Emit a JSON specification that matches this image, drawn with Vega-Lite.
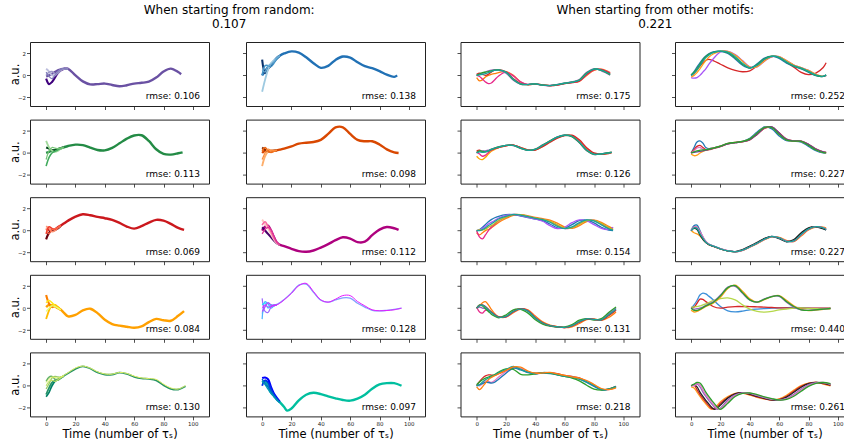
{
"$schema":"https://vega.github.io/schema/vega-lite/v6.json",
"padding":{"left":8,"top":3,"right":0,"bottom":0},
"config":{"font":"DejaVu Sans","view":{"stroke":"#222","strokeWidth":1},
"axis":{"grid":false,"domain":false,"tickSize":3.5,"tickWidth":0.8,"tickColor":"#222","labelFontSize":5.5,"labelColor":"#222","labelPadding":1.5,"labelOverlap":false,"labelBound":false,"titleFontSize":11.5,"titleFontWeight":"normal","titleColor":"#000","titlePadding":2},
"axisY":{"titlePadding":-3,"labelPadding":1},
"title":{"fontSize":12,"fontWeight":"normal","color":"#000","lineHeight":14,"offset":11},
"text":{"fontSize":9,"color":"#000"}},
"datasets":{
"rmse":[{"p":"11","label":"rmse: 0.106"},{"p":"21","label":"rmse: 0.113"},{"p":"31","label":"rmse: 0.069"},{"p":"41","label":"rmse: 0.084"},{"p":"51","label":"rmse: 0.130"},{"p":"12","label":"rmse: 0.138"},{"p":"22","label":"rmse: 0.098"},{"p":"32","label":"rmse: 0.112"},{"p":"42","label":"rmse: 0.128"},{"p":"52","label":"rmse: 0.097"},{"p":"13","label":"rmse: 0.175"},{"p":"23","label":"rmse: 0.126"},{"p":"33","label":"rmse: 0.154"},{"p":"43","label":"rmse: 0.131"},{"p":"53","label":"rmse: 0.218"},{"p":"14","label":"rmse: 0.252"},{"p":"24","label":"rmse: 0.227"},{"p":"34","label":"rmse: 0.227"},{"p":"44","label":"rmse: 0.440"},{"p":"54","label":"rmse: 0.261"}],
"curves":[
{"p":"11","t":0,"a":-0.1,"b":-0.3,"c":0.6,"d":0,"e":0.3},
{"p":"11","t":2,"a":0,"b":-0.8,"c":0.35,"d":0.3,"e":-0.1},
{"p":"11","t":4,"a":0.15,"b":-0.6,"c":0,"d":0.35,"e":-0.3},
{"p":"11","t":6,"a":0.3,"b":-0.2,"c":0,"d":0.15,"e":0},
{"p":"11","t":8,"a":0.45,"b":0.2,"c":0.3,"d":0.2,"e":0.35},
{"p":"11","t":10,"a":0.55,"b":0.45,"c":0.5,"d":0.45,"e":0.55},
{"p":"11","t":12,"a":0.62,"b":0.58,"c":0.6,"d":0.6,"e":0.62},
{"p":"11","t":15,"a":0.6,"b":0.6,"c":0.6,"d":0.6,"e":0.58},
{"p":"11","t":20,"a":0},{"p":"11","t":25,"a":-0.55},{"p":"11","t":30,"a":-0.82},{"p":"11","t":35,"a":-0.8},{"p":"11","t":40,"a":-0.75},{"p":"11","t":45,"a":-0.88},{"p":"11","t":50,"a":-1},{"p":"11","t":55,"a":-0.9},{"p":"11","t":60,"a":-0.75},{"p":"11","t":65,"a":-0.68},{"p":"11","t":70,"a":-0.58},{"p":"11","t":75,"a":-0.2},{"p":"11","t":80,"a":0.35},{"p":"11","t":85,"a":0.62},{"p":"11","t":90,"a":0.3},{"p":"11","t":92,"a":0.1},
{"p":"21","t":0,"a":0,"b":0.5,"c":1.1,"d":-1.2,"e":-0.6},
{"p":"21","t":2,"a":0.1,"b":0.4,"c":0.5,"d":-0.4,"e":0.2},
{"p":"21","t":4,"a":0.2,"b":0.25,"c":0.2,"d":0,"e":0.5},
{"p":"21","t":6,"a":0.25,"b":0.25,"c":0.1,"d":0.15,"e":0.45},
{"p":"21","t":8,"a":0.35,"b":0.35,"c":0.2,"d":0.3,"e":0.4},
{"p":"21","t":10,"a":0.43,"b":0.43,"c":0.4,"d":0.42,"e":0.45},
{"p":"21","t":12,"a":0.52,"b":0.52,"c":0.5,"d":0.52,"e":0.52},
{"p":"21","t":15,"a":0.64},{"p":"21","t":20,"a":0.76},{"p":"21","t":25,"a":0.72},{"p":"21","t":30,"a":0.49},{"p":"21","t":35,"a":0.27},{"p":"21","t":40,"a":0.24},{"p":"21","t":45,"a":0.46},{"p":"21","t":50,"a":0.88},{"p":"21","t":55,"a":1.31},{"p":"21","t":60,"a":1.6},{"p":"21","t":65,"a":1.62},{"p":"21","t":70,"a":1.1},{"p":"21","t":75,"a":0.34},{"p":"21","t":80,"a":-0.09},{"p":"21","t":85,"a":-0.15},{"p":"21","t":90,"a":-0.03},{"p":"21","t":93,"a":0.06},
{"p":"31","t":0,"a":0,"b":-0.8,"c":0.4,"d":-0.3,"e":0.2},
{"p":"31","t":2,"a":0.1,"b":-0.2,"c":0.2,"d":0.35,"e":-0.3},
{"p":"31","t":4,"a":0,"b":0,"c":-0.1,"d":0.2,"e":0.1},
{"p":"31","t":6,"a":0.1,"b":0.05,"c":0,"d":0.1,"e":0.15},
{"p":"31","t":8,"a":0.3,"b":0.2,"c":0.25,"d":0.3,"e":0.3},
{"p":"31","t":10,"a":0.46,"b":0.45,"c":0.45,"d":0.46,"e":0.46},
{"p":"31","t":12,"a":0.64},{"p":"31","t":15,"a":0.91},{"p":"31","t":20,"a":1.28},{"p":"31","t":25,"a":1.49},{"p":"31","t":30,"a":1.4},{"p":"31","t":35,"a":1.25},{"p":"31","t":40,"a":1.13},{"p":"31","t":45,"a":0.98},{"p":"31","t":50,"a":0.7},{"p":"31","t":55,"a":0.37},{"p":"31","t":60,"a":0.18},{"p":"31","t":65,"a":0.4},{"p":"31","t":70,"a":0.73},{"p":"31","t":75,"a":0.98},{"p":"31","t":80,"a":0.91},{"p":"31","t":85,"a":0.61},{"p":"31","t":90,"a":0.24},{"p":"31","t":94,"a":0.06},
{"p":"41","t":0,"a":0.1,"b":1.2,"c":-1,"d":0.5,"e":-0.3},
{"p":"41","t":2,"a":0.3,"b":0.4,"c":-0.2,"d":0.7,"e":0},
{"p":"41","t":4,"a":0.25,"b":0.1,"c":0.3,"d":0.5,"e":0.2},
{"p":"41","t":6,"a":0.15,"b":0.2,"c":0.3,"d":0.2,"e":0.15},
{"p":"41","t":8,"a":0,"b":0.05,"c":0.1,"d":0,"e":0},
{"p":"41","t":10,"a":-0.15,"b":-0.15,"c":-0.15,"d":-0.15,"e":-0.15},
{"p":"41","t":12,"a":-0.4},{"p":"41","t":15,"a":-0.75},{"p":"41","t":20,"a":-0.62},{"p":"41","t":25,"a":-0.2},{"p":"41","t":30,"a":-0.05},{"p":"41","t":35,"a":-0.45},{"p":"41","t":40,"a":-1.06},{"p":"41","t":45,"a":-1.45},{"p":"41","t":50,"a":-1.6},{"p":"41","t":55,"a":-1.7},{"p":"41","t":60,"a":-1.79},{"p":"41","t":65,"a":-1.67},{"p":"41","t":70,"a":-1.27},{"p":"41","t":75,"a":-0.98},{"p":"41","t":80,"a":-1.1},{"p":"41","t":85,"a":-1.15},{"p":"41","t":90,"a":-0.7},{"p":"41","t":94,"a":-0.27},
{"p":"51","t":0,"a":-0.8,"b":-1,"c":0.4,"d":-0.3,"e":0,"f":0.3},
{"p":"51","t":2,"a":-0.2,"b":-0.6,"c":0.8,"d":0.2,"e":0.4,"f":0.6},
{"p":"51","t":4,"a":0.3,"b":0,"c":0.85,"d":0.7,"e":0.5,"f":0.8},
{"p":"51","t":6,"a":0.5,"b":0.4,"c":0.6,"d":0.85,"e":0.4,"f":0.75},
{"p":"51","t":8,"a":0.6,"b":0.55,"c":0.5,"d":0.8,"e":0.55,"f":0.7},
{"p":"51","t":10,"a":0.75,"b":0.7,"c":0.7,"d":0.8,"e":0.75,"f":0.8},
{"p":"51","t":12,"a":0.9,"b":0.88,"c":0.9,"d":0.9,"e":0.9,"f":0.95},
{"p":"51","t":15,"a":1.15,"f":1.2},{"p":"51","t":20,"a":1.55,"f":1.62},{"p":"51","t":25,"a":1.78,"f":1.8},{"p":"51","t":30,"a":1.58,"f":1.62},{"p":"51","t":35,"a":1.22,"f":1.28},{"p":"51","t":40,"a":1.03,"f":1.08},{"p":"51","t":45,"a":1.03,"f":1.06},{"p":"51","t":50,"a":1.2,"f":1.22},{"p":"51","t":55,"a":1.08,"f":1.13},{"p":"51","t":60,"a":0.82,"f":0.88},{"p":"51","t":65,"a":0.67,"f":0.72},{"p":"51","t":70,"a":0.63,"f":0.66},{"p":"51","t":75,"a":0.5,"f":0.58},{"p":"51","t":80,"a":0.05,"f":0.15},{"p":"51","t":85,"a":-0.28,"f":-0.2},{"p":"51","t":90,"a":-0.34,"f":-0.3},{"p":"51","t":95,"a":-0.05,"f":0.02},
{"p":"12","t":0,"a":0,"b":1.45,"c":-1.5,"d":0,"e":0.5},
{"p":"12","t":2,"a":0.4,"b":0.2,"c":-0.4,"d":0.9,"e":0.3},
{"p":"12","t":4,"a":0.75,"b":0.6,"c":0.5,"d":0.9,"e":0.85},
{"p":"12","t":6,"a":1,"b":0.9,"c":1.1,"d":0.8,"e":1},
{"p":"12","t":8,"a":1.3,"b":1.25,"c":1.35,"d":1.1,"e":1.25},
{"p":"12","t":10,"a":1.6,"b":1.55,"c":1.55,"d":1.5,"e":1.6},
{"p":"12","t":12,"a":1.8,"b":1.78,"c":1.8,"d":1.78,"e":1.8},
{"p":"12","t":15,"a":2},{"p":"12","t":20,"a":2.19},{"p":"12","t":25,"a":2.07},{"p":"12","t":30,"a":1.65},{"p":"12","t":35,"a":1.11},{"p":"12","t":40,"a":0.69},{"p":"12","t":45,"a":0.87},{"p":"12","t":50,"a":1.41},{"p":"12","t":55,"a":1.72},{"p":"12","t":60,"a":1.62},{"p":"12","t":65,"a":1.2},{"p":"12","t":70,"a":0.84},{"p":"12","t":75,"a":0.66},{"p":"12","t":80,"a":0.39},{"p":"12","t":85,"a":0.06},{"p":"12","t":90,"a":-0.14},{"p":"12","t":92,"a":0},
{"p":"22","t":0,"a":0,"b":0.5,"c":-1.2,"d":0.2,"e":-0.6},
{"p":"22","t":2,"a":0.2,"b":0.3,"c":-0.3,"d":0.5,"e":0},
{"p":"22","t":4,"a":0.15,"b":0.1,"c":0.1,"d":0.2,"e":0.35},
{"p":"22","t":6,"a":0.15,"b":0.2,"c":0.2,"d":0.05,"e":0.25},
{"p":"22","t":8,"a":0.2,"b":0.2,"c":0.2,"d":0.15,"e":0.2},
{"p":"22","t":10,"a":0.24,"b":0.24,"c":0.24,"d":0.24,"e":0.24},
{"p":"22","t":12,"a":0.3},{"p":"22","t":15,"a":0.39},{"p":"22","t":20,"a":0.6},{"p":"22","t":25,"a":0.85},{"p":"22","t":30,"a":0.94},{"p":"22","t":35,"a":1},{"p":"22","t":40,"a":1.2},{"p":"22","t":45,"a":1.74},{"p":"22","t":50,"a":2.33},{"p":"22","t":55,"a":2.35},{"p":"22","t":60,"a":1.74},{"p":"22","t":65,"a":1.2},{"p":"22","t":70,"a":1.07},{"p":"22","t":75,"a":1.07},{"p":"22","t":80,"a":0.78},{"p":"22","t":85,"a":0.33},{"p":"22","t":90,"a":0.06},{"p":"22","t":93,"a":0},
{"p":"32","t":0,"a":0,"b":0.3,"c":1,"d":0.5,"e":-0.3},
{"p":"32","t":2,"a":0.35,"b":0,"c":0.6,"d":0.8,"e":0.1},
{"p":"32","t":4,"a":0.45,"b":-0.3,"c":0.2,"d":0.4,"e":0.3},
{"p":"32","t":6,"a":0,"b":-0.6,"c":-0.3,"d":-0.1,"e":0.1},
{"p":"32","t":8,"a":-0.6,"b":-0.9,"c":-0.8,"d":-0.7,"e":-0.5},
{"p":"32","t":10,"a":-1.1,"b":-1.15,"c":-1.15,"d":-1.1,"e":-1.05},
{"p":"32","t":12,"a":-1.3,"b":-1.3,"c":-1.3,"d":-1.3,"e":-1.3},
{"p":"32","t":15,"a":-1.42},{"p":"32","t":20,"a":-1.67},{"p":"32","t":25,"a":-1.88},{"p":"32","t":30,"a":-1.94},{"p":"32","t":35,"a":-1.82},{"p":"32","t":40,"a":-1.55},{"p":"32","t":45,"a":-1.24},{"p":"32","t":50,"a":-0.88},{"p":"32","t":55,"a":-0.61},{"p":"32","t":60,"a":-0.73},{"p":"32","t":65,"a":-1.05},{"p":"32","t":70,"a":-1.02},{"p":"32","t":75,"a":-0.42},{"p":"32","t":80,"a":0.09},{"p":"32","t":85,"a":0.33},{"p":"32","t":90,"a":0.21},{"p":"32","t":93,"a":0.06},
{"p":"42","t":0,"a":-0.5,"b":-1,"c":0.9,"d":0.3,"e":-0.3,"f":0},
{"p":"42","t":2,"a":0.2,"b":0.6,"c":-0.3,"d":0.5,"e":0.1,"f":0.3},
{"p":"42","t":4,"a":0.5,"b":0.4,"c":-0.4,"d":0,"e":0.5,"f":0.1},
{"p":"42","t":6,"a":0.3,"b":0,"c":0.1,"d":0.3,"e":0.3,"f":0.15},
{"p":"42","t":8,"a":0.3,"b":0.2,"c":0.3,"d":0.2,"e":0.2,"f":0.25},
{"p":"42","t":10,"a":0.35,"b":0.3,"c":0.3,"d":0.3,"e":0.3,"f":0.3},
{"p":"42","t":12,"a":0.5,"f":0.45},{"p":"42","t":15,"a":0.8,"f":0.76},{"p":"42","t":20,"a":1.4,"f":1.36},{"p":"42","t":25,"a":2.1,"f":2.06},{"p":"42","t":30,"a":2.2,"f":2.27},{"p":"42","t":35,"a":1.45,"f":1.52},{"p":"42","t":40,"a":0.72,"f":0.76},{"p":"42","t":45,"a":0.55,"f":0.55},{"p":"42","t":50,"a":0.75,"f":0.82},{"p":"42","t":55,"a":0.95,"f":1.15},{"p":"42","t":60,"a":0.92,"f":1.15},{"p":"42","t":65,"a":0.45,"f":0.61},{"p":"42","t":70,"a":0.1,"f":0.21},{"p":"42","t":75,"a":-0.2,"f":-0.15},{"p":"42","t":80,"a":-0.25,"f":-0.24},{"p":"42","t":85,"a":-0.2,"f":-0.21},{"p":"42","t":90,"a":-0.12,"f":-0.15},{"p":"42","t":95,"a":0,"f":0},
{"p":"52","t":0,"a":0.3,"b":0.7,"c":0,"d":0.6,"e":0.4},
{"p":"52","t":2,"a":0.4,"b":0.75,"c":0.5,"d":0.2,"e":0.1},
{"p":"52","t":4,"a":0.1,"b":0.6,"c":0.3,"d":-0.1,"e":-0.3},
{"p":"52","t":6,"a":-0.6,"b":-0.1,"c":-0.3,"d":-0.5,"e":-0.7},
{"p":"52","t":8,"a":-0.9,"b":-0.7,"c":-0.8,"d":-0.9,"e":-1},
{"p":"52","t":10,"a":-1.24,"b":-1.1,"c":-1.2,"d":-1.25,"e":-1.3},
{"p":"52","t":12,"a":-1.5,"b":-1.45,"c":-1.5,"d":-1.5,"e":-1.52},
{"p":"52","t":15,"a":-1.94},{"p":"52","t":17,"a":-2.27},{"p":"52","t":20,"a":-2.08},{"p":"52","t":25,"a":-1.33},{"p":"52","t":30,"a":-0.82},{"p":"52","t":35,"a":-0.64},{"p":"52","t":40,"a":-0.76},{"p":"52","t":45,"a":-0.97},{"p":"52","t":50,"a":-1.15},{"p":"52","t":55,"a":-1.3},{"p":"52","t":60,"a":-1.36},{"p":"52","t":65,"a":-1.18},{"p":"52","t":70,"a":-0.82},{"p":"52","t":75,"a":-0.27},{"p":"52","t":80,"a":0.12},{"p":"52","t":85,"a":0.24},{"p":"52","t":90,"a":0.24},{"p":"52","t":95,"a":0},
{"p":"13","t":0,"a":-0.2,"b":0,"c":0.1,"d":0.05,"e":0,"f":0},
{"p":"13","t":2,"a":-0.5,"b":-0.1,"c":0.2,"d":0.1,"e":0.15,"f":0.05},
{"p":"13","t":4,"a":-0.4,"b":-0.35,"c":0.1,"d":0.2,"e":0.25,"f":0.1},
{"p":"13","t":6,"a":-0.15,"b":-0.6,"c":0,"d":0.3,"e":0.3,"f":0.15},
{"p":"13","t":8,"a":0,"b":-0.75,"c":0.1,"d":0.4,"e":0.35,"f":0.25},
{"p":"13","t":10,"a":0.1,"b":-0.7,"c":0.3,"d":0.48,"e":0.42,"f":0.35},
{"p":"13","t":12,"a":0.15,"b":-0.45,"c":0.45,"d":0.52,"e":0.48,"f":0.45},
{"p":"13","t":15,"a":0.25,"b":-0.05,"c":0.52,"d":0.48,"e":0.5,"f":0.5},
{"p":"13","t":20,"a":0.35,"b":0.3,"c":0.32,"d":0.2,"e":0.28,"f":0.3},
{"p":"13","t":25,"a":0,"b":-0.05,"c":-0.3,"d":-0.45,"e":-0.38,"f":-0.35},
{"p":"13","t":30,"a":-0.6,"b":-0.6,"c":-0.75,"d":-0.82,"e":-0.8,"f":-0.78},
{"p":"13","t":35,"a":-0.85,"b":-0.85,"c":-0.84,"d":-0.82,"e":-0.84,"f":-0.84},
{"p":"13","t":40,"a":-0.8,"b":-0.8,"c":-0.78,"d":-0.76,"e":-0.78,"f":-0.78},
{"p":"13","t":45,"a":-0.85,"b":-0.9,"c":-0.88,"d":-0.9,"e":-0.89,"f":-0.9},
{"p":"13","t":50,"a":-0.93,"b":-0.95,"c":-0.93,"d":-0.92,"e":-0.93,"f":-0.93},
{"p":"13","t":55,"a":-0.88,"b":-0.88,"c":-0.86,"d":-0.82,"e":-0.84,"f":-0.84},
{"p":"13","t":60,"a":-0.75,"b":-0.75,"c":-0.74,"d":-0.7,"e":-0.72,"f":-0.72},
{"p":"13","t":65,"a":-0.66,"b":-0.66,"c":-0.65,"d":-0.6,"e":-0.62,"f":-0.63},
{"p":"13","t":70,"a":-0.55,"b":-0.52,"c":-0.5,"d":-0.38,"e":-0.42,"f":-0.45},
{"p":"13","t":75,"a":0,"b":0.05,"c":0.1,"d":0.28,"e":0.22,"f":0.18},
{"p":"13","t":80,"a":0.45,"b":0.5,"c":0.55,"d":0.6,"e":0.58,"f":0.57},
{"p":"13","t":85,"a":0.57,"b":0.55,"c":0.52,"d":0.42,"e":0.45,"f":0.48},
{"p":"13","t":91,"a":0.25,"b":0.22,"c":0.15,"d":0.02,"e":0.07,"f":0.1},
{"p":"23","t":0,"a":-0.3,"b":0.1,"c":0.2,"d":0,"e":0.05,"f":0},
{"p":"23","t":2,"a":-0.55,"b":-0.1,"c":0.25,"d":0.15,"e":0.2,"f":0.1},
{"p":"23","t":4,"a":-0.6,"b":-0.3,"c":0.1,"d":0.2,"e":0.15,"f":0.05},
{"p":"23","t":6,"a":-0.4,"b":-0.2,"c":0.15,"d":0.2,"e":0.1,"f":0.1},
{"p":"23","t":8,"a":-0.1,"b":0.05,"c":0.2,"d":0.25,"e":0.2,"f":0.2},
{"p":"23","t":10,"a":0.15,"b":0.25,"c":0.3,"d":0.35,"e":0.33,"f":0.33},
{"p":"23","t":12,"a":0.3,"b":0.38,"c":0.4,"d":0.45,"e":0.43,"f":0.42},
{"p":"23","t":15,"a":0.48,"b":0.5,"c":0.5,"d":0.56,"e":0.55,"f":0.54},
{"p":"23","t":20,"a":0.66,"b":0.68,"c":0.66,"d":0.7,"e":0.7,"f":0.69},
{"p":"23","t":25,"a":0.72,"b":0.72,"c":0.72,"d":0.68,"e":0.69,"f":0.7},
{"p":"23","t":30,"a":0.5,"b":0.48,"c":0.5,"d":0.42,"e":0.43,"f":0.45},
{"p":"23","t":35,"a":0.27,"b":0.25,"c":0.28,"d":0.23,"e":0.23,"f":0.24},
{"p":"23","t":40,"a":0.28,"b":0.3,"c":0.27,"d":0.36,"e":0.35,"f":0.33},
{"p":"23","t":45,"a":0.6,"b":0.66,"c":0.58,"d":0.74,"e":0.72,"f":0.69},
{"p":"23","t":50,"a":1,"b":1.05,"c":0.98,"d":1.12,"e":1.1,"f":1.08},
{"p":"23","t":55,"a":1.38,"b":1.42,"c":1.35,"d":1.48,"e":1.46,"f":1.44},
{"p":"23","t":60,"a":1.6,"b":1.62,"c":1.58,"d":1.63,"e":1.62,"f":1.62},
{"p":"23","t":65,"a":1.58,"b":1.55,"c":1.62,"d":1.48,"e":1.5,"f":1.53},
{"p":"23","t":70,"a":1.1,"b":1.03,"c":1.2,"d":0.92,"e":0.95,"f":0.99},
{"p":"23","t":75,"a":0.4,"b":0.3,"c":0.48,"d":0.2,"e":0.22,"f":0.27},
{"p":"23","t":80,"a":-0.05,"b":-0.1,"c":0,"d":-0.14,"e":-0.13,"f":-0.12},
{"p":"23","t":85,"a":-0.12,"b":-0.1,"c":-0.12,"d":-0.08,"e":-0.08,"f":-0.09},
{"p":"23","t":90,"a":-0.02,"b":0,"c":-0.05,"d":0.02,"e":0.02,"f":0},
{"p":"23","t":92,"a":0.04,"b":0.05,"c":0.02,"d":0.08,"e":0.07,"f":0.06},
{"p":"33","t":0,"a":-0.2,"b":0,"c":0,"d":0,"e":0,"f":0},
{"p":"33","t":2,"a":-0.4,"b":-0.6,"c":0.1,"d":0.05,"e":0.05,"f":0},
{"p":"33","t":4,"a":-0.2,"b":-0.75,"c":0.3,"d":0.2,"e":0.05,"f":0.1},
{"p":"33","t":6,"a":0,"b":-0.4,"c":0.55,"d":0.4,"e":0.15,"f":0.25},
{"p":"33","t":8,"a":0.1,"b":0,"c":0.8,"d":0.6,"e":0.3,"f":0.45},
{"p":"33","t":10,"a":0.25,"b":0.3,"c":1,"d":0.75,"e":0.45,"f":0.6},
{"p":"33","t":12,"a":0.45,"b":0.55,"c":1.15,"d":0.9,"e":0.62,"f":0.78},
{"p":"33","t":15,"a":0.75,"b":0.9,"c":1.3,"d":1.15,"e":0.92,"f":1.06},
{"p":"33","t":20,"a":1.1,"b":1.22,"c":1.45,"d":1.38,"e":1.22,"f":1.3},
{"p":"33","t":25,"a":1.38,"b":1.45,"c":1.45,"d":1.48,"e":1.45,"f":1.48},
{"p":"33","t":30,"a":1.46,"b":1.44,"c":1.33,"d":1.36,"e":1.45,"f":1.42},
{"p":"33","t":35,"a":1.35,"b":1.3,"c":1.18,"d":1.2,"e":1.3,"f":1.27},
{"p":"33","t":40,"a":1.2,"b":1.14,"c":1.05,"d":1.05,"e":1.15,"f":1.12},
{"p":"33","t":45,"a":1.08,"b":1.02,"c":0.9,"d":0.85,"e":1.03,"f":1},
{"p":"33","t":50,"a":0.95,"b":0.82,"c":0.6,"d":0.45,"e":0.85,"f":0.76},
{"p":"33","t":55,"a":0.68,"b":0.48,"c":0.25,"d":0.18,"e":0.52,"f":0.39},
{"p":"33","t":60,"a":0.32,"b":0.2,"c":0.22,"d":0.3,"e":0.22,"f":0.18},
{"p":"33","t":65,"a":0.2,"b":0.25,"c":0.55,"d":0.72,"e":0.25,"f":0.33},
{"p":"33","t":70,"a":0.45,"b":0.62,"c":0.9,"d":0.97,"e":0.58,"f":0.73},
{"p":"33","t":75,"a":0.82,"b":0.93,"c":0.95,"d":0.88,"e":0.92,"f":0.97},
{"p":"33","t":80,"a":0.95,"b":0.92,"c":0.7,"d":0.55,"e":0.93,"f":0.88},
{"p":"33","t":85,"a":0.75,"b":0.6,"c":0.3,"d":0.2,"e":0.65,"f":0.52},
{"p":"33","t":90,"a":0.38,"b":0.22,"c":0.05,"d":0.1,"e":0.28,"f":0.15},
{"p":"33","t":93,"a":0.2,"b":0.08,"c":0,"d":0.3,"e":0.1,"f":0.03},
{"p":"43","t":0,"a":0,"b":0.1,"c":0,"d":0,"e":0,"f":0},
{"p":"43","t":2,"a":0.2,"b":-0.35,"c":0.1,"d":0.3,"e":0.25,"f":0.24},
{"p":"43","t":4,"a":0.5,"b":-0.45,"c":0,"d":0.2,"e":0.3,"f":0.28},
{"p":"43","t":6,"a":0.6,"b":-0.2,"c":-0.05,"d":-0.05,"e":0.15,"f":0.1},
{"p":"43","t":8,"a":0.3,"b":-0.2,"c":-0.2,"d":-0.3,"e":-0.1,"f":-0.15},
{"p":"43","t":10,"a":-0.1,"b":-0.35,"c":-0.4,"d":-0.55,"e":-0.35,"f":-0.39},
{"p":"43","t":12,"a":-0.45,"b":-0.55,"c":-0.6,"d":-0.72,"e":-0.57,"f":-0.6},
{"p":"43","t":15,"a":-0.78,"b":-0.8,"c":-0.82,"d":-0.88,"e":-0.8,"f":-0.82},
{"p":"43","t":20,"a":-0.82,"b":-0.8,"c":-0.75,"d":-0.62,"e":-0.78,"f":-0.76},
{"p":"43","t":25,"a":-0.42,"b":-0.35,"c":-0.28,"d":-0.15,"e":-0.32,"f":-0.3},
{"p":"43","t":30,"a":-0.08,"b":-0.05,"c":-0.06,"d":-0.1,"e":-0.05,"f":-0.06},
{"p":"43","t":35,"a":-0.15,"b":-0.22,"c":-0.3,"d":-0.45,"e":-0.24,"f":-0.27},
{"p":"43","t":40,"a":-0.72,"b":-0.85,"c":-0.92,"d":-1.05,"e":-0.88,"f":-0.9},
{"p":"43","t":45,"a":-1.25,"b":-1.33,"c":-1.38,"d":-1.45,"e":-1.35,"f":-1.36},
{"p":"43","t":50,"a":-1.55,"b":-1.6,"c":-1.62,"d":-1.65,"e":-1.6,"f":-1.6},
{"p":"43","t":55,"a":-1.68,"b":-1.7,"c":-1.7,"d":-1.72,"e":-1.71,"f":-1.7},
{"p":"43","t":60,"a":-1.78,"b":-1.77,"c":-1.75,"d":-1.72,"e":-1.77,"f":-1.76},
{"p":"43","t":65,"a":-1.7,"b":-1.63,"c":-1.58,"d":-1.5,"e":-1.62,"f":-1.6},
{"p":"43","t":70,"a":-1.4,"b":-1.28,"c":-1.2,"d":-1.1,"e":-1.28,"f":-1.24},
{"p":"43","t":75,"a":-1.05,"b":-0.98,"c":-0.96,"d":-0.96,"e":-1,"f":-0.97},
{"p":"43","t":80,"a":-0.98,"b":-1.02,"c":-1.05,"d":-1.08,"e":-1.02,"f":-1.03},
{"p":"43","t":85,"a":-1.12,"b":-1.08,"c":-1.02,"d":-0.95,"e":-1.1,"f":-1.06},
{"p":"43","t":90,"a":-0.85,"b":-0.65,"c":-0.5,"d":-0.4,"e":-0.7,"f":-0.6},
{"p":"43","t":95,"a":-0.35,"b":-0.15,"c":0,"d":0.1,"e":-0.2,"f":-0.09},
{"p":"53","t":0,"a":0,"b":0.1,"c":0,"d":0.1,"e":0,"f":-0.1},
{"p":"53","t":2,"a":0.4,"b":0,"c":0.1,"d":0.35,"e":0.1,"f":-0.35},
{"p":"53","t":4,"a":0.7,"b":0.2,"c":0.2,"d":0.55,"e":0.35,"f":-0.1},
{"p":"53","t":6,"a":0.9,"b":0.45,"c":0.3,"d":0.7,"e":0.55,"f":0.25},
{"p":"53","t":8,"a":1,"b":0.4,"c":0.3,"d":0.8,"e":0.7,"f":0.55},
{"p":"53","t":10,"a":0.98,"b":0.3,"c":0.25,"d":0.9,"e":0.82,"f":0.75},
{"p":"53","t":12,"a":0.95,"b":0.45,"c":0.3,"d":1,"e":0.95,"f":0.9},
{"p":"53","t":15,"a":1.1,"b":0.8,"c":0.6,"d":1.25,"e":1.18,"f":1.1},
{"p":"53","t":20,"a":1.4,"b":1.3,"c":1.15,"d":1.55,"e":1.48,"f":1.4},
{"p":"53","t":25,"a":1.7,"b":1.65,"c":1.6,"d":1.5,"e":1.76,"f":1.72},
{"p":"53","t":30,"a":1.55,"b":1.6,"c":1.45,"d":1.05,"e":1.5,"f":1.7},
{"p":"53","t":35,"a":1.25,"b":1.3,"c":1.2,"d":1,"e":1.24,"f":1.35},
{"p":"53","t":40,"a":1.15,"b":1.1,"c":1.1,"d":1.08,"e":1.12,"f":1.15},
{"p":"53","t":45,"a":1.2,"b":1.15,"c":1.15,"d":1.2,"e":1.21,"f":1.18},
{"p":"53","t":50,"a":1.2,"b":1.2,"c":1.12,"d":1.15,"e":1.18,"f":1.22},
{"p":"53","t":55,"a":1.1,"b":1.05,"c":1,"d":1,"e":1.03,"f":1.08},
{"p":"53","t":60,"a":0.95,"b":0.9,"c":0.85,"d":0.85,"e":0.88,"f":0.95},
{"p":"53","t":65,"a":0.85,"b":0.8,"c":0.76,"d":0.7,"e":0.79,"f":0.82},
{"p":"53","t":70,"a":0.72,"b":0.66,"c":0.6,"d":0.45,"e":0.64,"f":0.7},
{"p":"53","t":75,"a":0.4,"b":0.4,"c":0.3,"d":0.05,"e":0.36,"f":0.48},
{"p":"53","t":80,"a":0,"b":0.05,"c":-0.05,"d":-0.3,"e":0.03,"f":0.12},
{"p":"53","t":85,"a":-0.35,"b":-0.3,"c":-0.38,"d":-0.4,"e":-0.33,"f":-0.25},
{"p":"53","t":90,"a":-0.3,"b":-0.36,"c":-0.3,"d":-0.3,"e":-0.33,"f":-0.35},
{"p":"53","t":95,"a":-0.05,"b":-0.1,"c":-0.05,"d":-0.1,"e":-0.09,"f":-0.2},
{"p":"14","t":0,"a":0,"b":-0.2,"c":-0.15,"d":0,"e":0.05,"f":0},
{"p":"14","t":2,"a":0.2,"b":-0.25,"c":0,"d":0.35,"e":0.3,"f":0.2},
{"p":"14","t":4,"a":0.5,"b":-0.2,"c":0.25,"d":0.75,"e":0.6,"f":0.5},
{"p":"14","t":6,"a":0.85,"b":0,"c":0.6,"d":1.15,"e":1,"f":0.9},
{"p":"14","t":8,"a":1.15,"b":0.3,"c":1,"d":1.5,"e":1.4,"f":1.3},
{"p":"14","t":10,"a":1.38,"b":0.6,"c":1.35,"d":1.78,"e":1.7,"f":1.62},
{"p":"14","t":12,"a":1.47,"b":1,"c":1.65,"d":1.98,"e":1.92,"f":1.85},
{"p":"14","t":15,"a":1.35,"b":1.5,"c":1.95,"d":2.15,"e":2.1,"f":2.07},
{"p":"14","t":20,"a":1.02,"b":2.15,"c":2.2,"d":2.2,"e":2.22,"f":2.22},
{"p":"14","t":25,"a":0.69,"b":2.2,"c":2.2,"d":2,"e":2.08,"f":2.13},
{"p":"14","t":30,"a":0.45,"b":1.9,"c":1.85,"d":1.5,"e":1.62,"f":1.71},
{"p":"14","t":35,"a":0.33,"b":1.35,"c":1.3,"d":0.92,"e":1.02,"f":1.11},
{"p":"14","t":40,"a":0.42,"b":0.78,"c":0.75,"d":0.66,"e":0.67,"f":0.69},
{"p":"14","t":45,"a":0.88,"b":0.78,"c":0.8,"d":1.05,"e":0.98,"f":0.93},
{"p":"14","t":50,"a":1.42,"b":1.3,"c":1.32,"d":1.58,"e":1.52,"f":1.47},
{"p":"14","t":55,"a":1.72,"b":1.7,"c":1.72,"d":1.76,"e":1.75,"f":1.74},
{"p":"14","t":60,"a":1.62,"b":1.72,"c":1.72,"d":1.55,"e":1.62,"f":1.65},
{"p":"14","t":65,"a":1.18,"b":1.35,"c":1.35,"d":1.12,"e":1.2,"f":1.23},
{"p":"14","t":70,"a":0.75,"b":0.95,"c":0.95,"d":0.82,"e":0.85,"f":0.87},
{"p":"14","t":75,"a":0.27,"b":0.7,"c":0.72,"d":0.6,"e":0.64,"f":0.66},
{"p":"14","t":80,"a":0.06,"b":0.45,"c":0.45,"d":0.28,"e":0.33,"f":0.36},
{"p":"14","t":85,"a":0.21,"b":0.1,"c":0.1,"d":-0.02,"e":0,"f":0.03},
{"p":"14","t":90,"a":0.72,"b":-0.1,"c":-0.08,"d":-0.1,"e":-0.1,"f":-0.09},
{"p":"14","t":92,"a":1.15,"b":-0.05,"c":0,"d":0.05,"e":0.03,"f":0.03},
{"p":"24","t":0,"a":0,"b":0,"c":0,"d":-0.1,"e":0,"f":0},
{"p":"24","t":2,"a":0.5,"b":0.3,"c":0.2,"d":-0.25,"e":0.05,"f":0.1},
{"p":"24","t":4,"a":1,"b":0.6,"c":0.45,"d":-0.2,"e":0.1,"f":0.2},
{"p":"24","t":6,"a":1.1,"b":0.7,"c":0.5,"d":0,"e":0.15,"f":0.25},
{"p":"24","t":8,"a":0.9,"b":0.5,"c":0.35,"d":0.15,"e":0.2,"f":0.28},
{"p":"24","t":10,"a":0.5,"b":0.3,"c":0.3,"d":0.25,"e":0.25,"f":0.3},
{"p":"24","t":12,"a":0.4,"b":0.3,"c":0.35,"d":0.33,"e":0.32,"f":0.36},
{"p":"24","t":15,"a":0.45,"b":0.4,"c":0.45,"d":0.44,"e":0.42,"f":0.45},
{"p":"24","t":20,"a":0.62,"b":0.58,"c":0.63,"d":0.62,"e":0.6,"f":0.63},
{"p":"24","t":25,"a":0.85,"b":0.82,"c":0.87,"d":0.86,"e":0.84,"f":0.87},
{"p":"24","t":30,"a":0.95,"b":0.95,"c":0.96,"d":0.96,"e":0.95,"f":0.96},
{"p":"24","t":35,"a":1.05,"b":1.02,"c":1.05,"d":1.04,"e":1.03,"f":1.05},
{"p":"24","t":40,"a":1.35,"b":1.2,"c":1.28,"d":1.25,"e":1.22,"f":1.29},
{"p":"24","t":45,"a":1.92,"b":1.7,"c":1.8,"d":1.76,"e":1.72,"f":1.83},
{"p":"24","t":50,"a":2.38,"b":2.25,"c":2.32,"d":2.3,"e":2.28,"f":2.34},
{"p":"24","t":55,"a":2.2,"b":2.38,"c":2.33,"d":2.35,"e":2.38,"f":2.31},
{"p":"24","t":60,"a":1.55,"b":1.85,"c":1.72,"d":1.78,"e":1.82,"f":1.68},
{"p":"24","t":65,"a":1.12,"b":1.28,"c":1.2,"d":1.22,"e":1.25,"f":1.17},
{"p":"24","t":70,"a":1.08,"b":1.1,"c":1.08,"d":1.09,"e":1.1,"f":1.08},
{"p":"24","t":75,"a":1,"b":1.08,"c":1.05,"d":1.07,"e":1.08,"f":1.05},
{"p":"24","t":80,"a":0.6,"b":0.8,"c":0.72,"d":0.75,"e":0.78,"f":0.69},
{"p":"24","t":85,"a":0.2,"b":0.38,"c":0.3,"d":0.33,"e":0.36,"f":0.27},
{"p":"24","t":90,"a":0,"b":0.1,"c":0.05,"d":0.07,"e":0.1,"f":0.03},
{"p":"24","t":92,"a":0,"b":0.05,"c":0,"d":0.02,"e":0.05,"f":0},
{"p":"34","t":0,"a":0,"b":0,"c":0,"d":0,"e":0,"f":0},
{"p":"34","t":2,"a":0.45,"b":-0.2,"c":0.3,"d":0.2,"e":0.35,"f":0.24},
{"p":"34","t":4,"a":0.5,"b":-0.3,"c":0.3,"d":0.1,"e":0.3,"f":0.2},
{"p":"34","t":6,"a":0,"b":-0.5,"c":-0.2,"d":-0.4,"e":-0.1,"f":-0.3},
{"p":"34","t":8,"a":-0.6,"b":-0.8,"c":-0.65,"d":-0.8,"e":-0.55,"f":-0.7},
{"p":"34","t":10,"a":-1,"b":-1.1,"c":-1.05,"d":-1.1,"e":-1,"f":-1.06},
{"p":"34","t":12,"a":-1.25,"b":-1.28,"c":-1.25,"d":-1.28,"e":-1.22,"f":-1.25},
{"p":"34","t":15,"a":-1.42,"b":-1.44,"c":-1.43,"d":-1.44,"e":-1.4,"f":-1.42},
{"p":"34","t":20,"a":-1.67,"b":-1.68,"c":-1.67,"d":-1.68,"e":-1.66,"f":-1.67},
{"p":"34","t":25,"a":-1.85,"b":-1.86,"c":-1.85,"d":-1.86,"e":-1.84,"f":-1.85},
{"p":"34","t":30,"a":-1.93,"b":-1.94,"c":-1.94,"d":-1.92,"e":-1.94,"f":-1.94},
{"p":"34","t":35,"a":-1.78,"b":-1.82,"c":-1.8,"d":-1.74,"e":-1.8,"f":-1.79},
{"p":"34","t":40,"a":-1.46,"b":-1.52,"c":-1.5,"d":-1.42,"e":-1.5,"f":-1.48},
{"p":"34","t":45,"a":-1.12,"b":-1.2,"c":-1.17,"d":-1.08,"e":-1.17,"f":-1.15},
{"p":"34","t":50,"a":-0.75,"b":-0.84,"c":-0.8,"d":-0.72,"e":-0.81,"f":-0.79},
{"p":"34","t":55,"a":-0.53,"b":-0.58,"c":-0.56,"d":-0.53,"e":-0.56,"f":-0.55},
{"p":"34","t":60,"a":-0.7,"b":-0.62,"c":-0.65,"d":-0.74,"e":-0.66,"f":-0.67},
{"p":"34","t":65,"a":-1,"b":-0.9,"c":-0.95,"d":-1.02,"e":-0.96,"f":-0.98},
{"p":"34","t":70,"a":-0.9,"b":-1,"c":-0.98,"d":-0.82,"e":-0.96,"f":-0.95},
{"p":"34","t":75,"a":-0.28,"b":-0.5,"c":-0.42,"d":-0.2,"e":-0.4,"f":-0.36},
{"p":"34","t":80,"a":0.2,"b":0.05,"c":0.1,"d":0.25,"e":0.12,"f":0.15},
{"p":"34","t":85,"a":0.36,"b":0.32,"c":0.35,"d":0.35,"e":0.36,"f":0.36},
{"p":"34","t":90,"a":0.2,"b":0.32,"c":0.28,"d":0.15,"e":0.26,"f":0.24},
{"p":"34","t":92,"a":0.05,"b":0.25,"c":0.15,"d":0.05,"e":0.12,"f":0.09},
{"p":"44","t":0,"a":0,"b":0,"c":0.1,"d":-0.2,"e":0,"f":0},
{"p":"44","t":2,"a":0.3,"b":0.1,"c":0.1,"d":-0.35,"e":-0.1,"f":-0.2},
{"p":"44","t":4,"a":0.7,"b":0.45,"c":0.15,"d":-0.3,"e":-0.05,"f":-0.2},
{"p":"44","t":6,"a":1.2,"b":0.82,"c":0.2,"d":-0.15,"e":0,"f":-0.1},
{"p":"44","t":8,"a":1.38,"b":0.8,"c":0.3,"d":0,"e":0.1,"f":0.05},
{"p":"44","t":10,"a":1.3,"b":0.6,"c":0.39,"d":0.15,"e":0.25,"f":0.21},
{"p":"44","t":12,"a":1.1,"b":0.42,"c":0.5,"d":0.28,"e":0.38,"f":0.33},
{"p":"44","t":15,"a":0.76,"b":0.15,"c":0.7,"d":0.45,"e":0.58,"f":0.52},
{"p":"44","t":20,"a":0.15,"b":0,"c":0.88,"d":1,"e":1.2,"f":1.12},
{"p":"44","t":25,"a":-0.24,"b":0.1,"c":0.94,"d":1.8,"e":1.92,"f":1.88},
{"p":"44","t":30,"a":-0.33,"b":0.15,"c":0.76,"d":2.1,"e":2,"f":2.06},
{"p":"44","t":35,"a":-0.27,"b":0.15,"c":0.3,"d":1.55,"e":1.35,"f":1.42},
{"p":"44","t":40,"a":-0.15,"b":0.15,"c":-0.09,"d":0.85,"e":0.72,"f":0.76},
{"p":"44","t":45,"a":-0.08,"b":0.12,"c":-0.3,"d":0.55,"e":0.55,"f":0.55},
{"p":"44","t":50,"a":-0.03,"b":0.09,"c":-0.36,"d":0.78,"e":0.85,"f":0.82},
{"p":"44","t":55,"a":0,"b":0.06,"c":-0.3,"d":1.05,"e":1.08,"f":1.06},
{"p":"44","t":60,"a":0.03,"b":0.03,"c":-0.15,"d":1.15,"e":1.08,"f":1.12},
{"p":"44","t":65,"a":0.05,"b":0.02,"c":-0.09,"d":0.72,"e":0.55,"f":0.61},
{"p":"44","t":70,"a":0.06,"b":0,"c":0,"d":0.22,"e":0.1,"f":0.15},
{"p":"44","t":75,"a":0.04,"b":0,"c":0.03,"d":-0.12,"e":-0.16,"f":-0.15},
{"p":"44","t":80,"a":0,"b":0,"c":-0.03,"d":-0.22,"e":-0.2,"f":-0.21},
{"p":"44","t":85,"a":-0.02,"b":0,"c":-0.05,"d":-0.17,"e":-0.14,"f":-0.15},
{"p":"44","t":90,"a":-0.02,"b":0,"c":-0.06,"d":-0.1,"e":-0.08,"f":-0.09},
{"p":"44","t":95,"a":-0.02,"b":0,"c":-0.03,"d":-0.05,"e":-0.02,"f":-0.03},
{"p":"54","t":0,"a":-0.1,"b":0,"c":0,"d":0,"e":0,"f":0},
{"p":"54","t":2,"a":-0.2,"b":0.05,"c":0.1,"d":0.05,"e":0,"f":0.15},
{"p":"54","t":4,"a":-0.58,"b":-0.35,"c":-0.1,"d":0.15,"e":0.2,"f":0.3},
{"p":"54","t":6,"a":-0.98,"b":-0.8,"c":-0.58,"d":-0.1,"e":0.1,"f":0.25},
{"p":"54","t":8,"a":-1.33,"b":-1.15,"c":-0.98,"d":-0.58,"e":-0.35,"f":-0.1},
{"p":"54","t":10,"a":-1.66,"b":-1.5,"c":-1.33,"d":-0.98,"e":-0.8,"f":-0.58},
{"p":"54","t":12,"a":-1.97,"b":-1.82,"c":-1.66,"d":-1.33,"e":-1.15,"f":-0.98},
{"p":"54","t":14,"a":-2.15,"b":-2.08,"c":-1.97,"d":-1.66,"e":-1.5,"f":-1.33},
{"p":"54","t":16,"a":-2.03,"b":-2.12,"c":-2.15,"d":-1.97,"e":-1.82,"f":-1.66},
{"p":"54","t":18,"a":-1.76,"b":-1.91,"c":-2.03,"d":-2.15,"e":-2.08,"f":-1.97},
{"p":"54","t":20,"a":-1.45,"b":-1.6,"c":-1.76,"d":-2.03,"e":-2.12,"f":-2.15},
{"p":"54","t":25,"a":-0.98,"b":-1.07,"c":-1.13,"d":-1.3,"e":-1.45,"f":-1.6},
{"p":"54","t":30,"a":-0.7,"b":-0.72,"c":-0.74,"d":-0.82,"e":-0.9,"f":-0.98},
{"p":"54","t":35,"a":-0.66,"b":-0.65,"c":-0.64,"d":-0.65,"e":-0.67,"f":-0.7},
{"p":"54","t":40,"a":-0.85,"b":-0.81,"c":-0.77,"d":-0.7,"e":-0.68,"f":-0.66},
{"p":"54","t":45,"a":-1.05,"b":-1.01,"c":-0.98,"d":-0.9,"e":-0.85,"f":-0.81},
{"p":"54","t":50,"a":-1.21,"b":-1.18,"c":-1.15,"d":-1.09,"e":-1.05,"f":-1.01},
{"p":"54","t":55,"a":-1.3,"b":-1.3,"c":-1.29,"d":-1.24,"e":-1.21,"f":-1.18},
{"p":"54","t":60,"a":-1.2,"b":-1.25,"c":-1.28,"d":-1.3,"e":-1.3,"f":-1.3},
{"p":"54","t":65,"a":-0.87,"b":-0.96,"c":-1.04,"d":-1.18,"e":-1.2,"f":-1.25},
{"p":"54","t":70,"a":-0.4,"b":-0.5,"c":-0.6,"d":-0.78,"e":-0.87,"f":-0.96},
{"p":"54","t":75,"a":0.02,"b":-0.05,"c":-0.13,"d":-0.3,"e":-0.4,"f":-0.5},
{"p":"54","t":80,"a":0.25,"b":0.22,"c":0.19,"d":0.1,"e":0.02,"f":-0.05},
{"p":"54","t":85,"a":0.3,"b":0.3,"c":0.3,"d":0.29,"e":0.25,"f":0.22},
{"p":"54","t":90,"a":0.16,"b":0.2,"c":0.24,"d":0.29,"e":0.3,"f":0.3},
{"p":"54","t":95,"a":0,"b":0.05,"c":0.07,"d":0.12,"e":0.16,"f":0.2}
]},
"spacing":29.5,
"resolve":{"scale":{"color":"independent","strokeWidth":"independent"}},
"hconcat":[
{"title":{"text":["When starting from random:","0.107"],"anchor":"middle","dx":12},
"spacing":31,
"resolve":{"scale":{"color":"independent","strokeWidth":"independent"}},
"hconcat":[
{"spacing":7.6,"resolve":{"scale":{"color":"independent","strokeWidth":"independent"}},"vconcat":[
{"width":179,"height":64,"layer":[{"data":{"name":"curves"},"transform":[{"filter":"datum.p==='11'"},{"fold":["a","b","c","d","e","f"],"as":["k","y"]}],"mark":{"type":"line","interpolate":"catmull-rom","clip":true},"encoding":{"x":{"field":"t","type":"quantitative","scale":{"domain":[-11,111],"nice":false,"zero":false},"axis":{"values":[0,20,40,60,80,100],"tickCount":12,"labels":false,"title":null}},"y":{"field":"y","type":"quantitative","scale":{"domain":[-2.8,3.05],"nice":false,"zero":false},"axis":{"values":[-2,0,2],"tickCount":12,"format":"d","labelOverlap":false,"title":"a.u."}},"color":{"field":"k","type":"nominal","scale":{"domain":["a","b","c","d","e","f"],"range":["#6a51a3","#3f007d","#bcbddc","#9e9ac8","#807dba","#807dba"]},"legend":null},"strokeWidth":{"field":"k","type":"nominal","scale":{"domain":["a","b","c","d","e","f"],"range":[2.4,1,1,1,1,1]},"legend":null}}},{"data":{"name":"rmse"},"transform":[{"filter":"datum.p==='11'"}],"mark":{"type":"text","align":"right","baseline":"alphabetic"},"encoding":{"x":{"datum":104.8,"type":"quantitative"},"y":{"datum":-2.2,"type":"quantitative"},"text":{"field":"label"}}}]},
{"width":179,"height":64,"layer":[{"data":{"name":"curves"},"transform":[{"filter":"datum.p==='21'"},{"fold":["a","b","c","d","e","f"],"as":["k","y"]}],"mark":{"type":"line","interpolate":"catmull-rom","clip":true},"encoding":{"x":{"field":"t","type":"quantitative","scale":{"domain":[-11,111],"nice":false,"zero":false},"axis":{"values":[0,20,40,60,80,100],"tickCount":12,"labels":false,"title":null}},"y":{"field":"y","type":"quantitative","scale":{"domain":[-2.8,3.05],"nice":false,"zero":false},"axis":{"values":[-2,0,2],"tickCount":12,"format":"d","labelOverlap":false,"title":"a.u."}},"color":{"field":"k","type":"nominal","scale":{"domain":["a","b","c","d","e","f"],"range":["#238b45","#00441b","#a1d99b","#41ab5d","#74c476","#74c476"]},"legend":null},"strokeWidth":{"field":"k","type":"nominal","scale":{"domain":["a","b","c","d","e","f"],"range":[2.4,1,1,1,1,1]},"legend":null}}},{"data":{"name":"rmse"},"transform":[{"filter":"datum.p==='21'"}],"mark":{"type":"text","align":"right","baseline":"alphabetic"},"encoding":{"x":{"datum":104.8,"type":"quantitative"},"y":{"datum":-2.2,"type":"quantitative"},"text":{"field":"label"}}}]},
{"width":179,"height":64,"layer":[{"data":{"name":"curves"},"transform":[{"filter":"datum.p==='31'"},{"fold":["a","b","c","d","e","f"],"as":["k","y"]}],"mark":{"type":"line","interpolate":"catmull-rom","clip":true},"encoding":{"x":{"field":"t","type":"quantitative","scale":{"domain":[-11,111],"nice":false,"zero":false},"axis":{"values":[0,20,40,60,80,100],"tickCount":12,"labels":false,"title":null}},"y":{"field":"y","type":"quantitative","scale":{"domain":[-2.8,3.05],"nice":false,"zero":false},"axis":{"values":[-2,0,2],"tickCount":12,"format":"d","labelOverlap":false,"title":"a.u."}},"color":{"field":"k","type":"nominal","scale":{"domain":["a","b","c","d","e","f"],"range":["#cb181d","#67000d","#fc9272","#ef3b2c","#fb6a4a","#fb6a4a"]},"legend":null},"strokeWidth":{"field":"k","type":"nominal","scale":{"domain":["a","b","c","d","e","f"],"range":[2.4,1,1,1,1,1]},"legend":null}}},{"data":{"name":"rmse"},"transform":[{"filter":"datum.p==='31'"}],"mark":{"type":"text","align":"right","baseline":"alphabetic"},"encoding":{"x":{"datum":104.8,"type":"quantitative"},"y":{"datum":-2.2,"type":"quantitative"},"text":{"field":"label"}}}]},
{"width":179,"height":64,"layer":[{"data":{"name":"curves"},"transform":[{"filter":"datum.p==='41'"},{"fold":["a","b","c","d","e","f"],"as":["k","y"]}],"mark":{"type":"line","interpolate":"catmull-rom","clip":true},"encoding":{"x":{"field":"t","type":"quantitative","scale":{"domain":[-11,111],"nice":false,"zero":false},"axis":{"values":[0,20,40,60,80,100],"tickCount":12,"labels":false,"title":null}},"y":{"field":"y","type":"quantitative","scale":{"domain":[-2.8,3.05],"nice":false,"zero":false},"axis":{"values":[-2,0,2],"tickCount":12,"format":"d","labelOverlap":false,"title":"a.u."}},"color":{"field":"k","type":"nominal","scale":{"domain":["a","b","c","d","e","f"],"range":["#ffa000","#fc7f00","#ffbd00","#ffe81a","#e4ff7a","#e4ff7a"]},"legend":null},"strokeWidth":{"field":"k","type":"nominal","scale":{"domain":["a","b","c","d","e","f"],"range":[2.4,1,1,1,1,1]},"legend":null}}},{"data":{"name":"rmse"},"transform":[{"filter":"datum.p==='41'"}],"mark":{"type":"text","align":"right","baseline":"alphabetic"},"encoding":{"x":{"datum":104.8,"type":"quantitative"},"y":{"datum":-2.2,"type":"quantitative"},"text":{"field":"label"}}}]},
{"width":179,"height":64,"layer":[{"data":{"name":"curves"},"transform":[{"filter":"datum.p==='51'"},{"fold":["a","b","c","d","e","f"],"as":["k","y"]}],"mark":{"type":"line","interpolate":"catmull-rom","clip":true},"encoding":{"x":{"field":"t","type":"quantitative","scale":{"domain":[-11,111],"nice":false,"zero":false},"axis":{"values":[0,20,40,60,80,100],"tickCount":12,"format":"d","labelOverlap":false,"title":"Time (number of τₛ)"}},"y":{"field":"y","type":"quantitative","scale":{"domain":[-2.8,3.05],"nice":false,"zero":false},"axis":{"values":[-2,0,2],"tickCount":12,"format":"d","labelOverlap":false,"title":"a.u."}},"color":{"field":"k","type":"nominal","scale":{"domain":["a","b","c","d","e","f"],"range":["#269366","#008066","#66b366","#99cc66","#bfdf66","#e6f266"]},"legend":null},"strokeWidth":{"field":"k","type":"nominal","scale":{"domain":["a","b","c","d","e","f"],"range":[1.8,1,1,1,1,1.8]},"legend":null}}},{"data":{"name":"rmse"},"transform":[{"filter":"datum.p==='51'"}],"mark":{"type":"text","align":"right","baseline":"alphabetic"},"encoding":{"x":{"datum":104.8,"type":"quantitative"},"y":{"datum":-2.2,"type":"quantitative"},"text":{"field":"label"}}}]}
]},
{"spacing":7.6,"resolve":{"scale":{"color":"independent","strokeWidth":"independent"}},"vconcat":[
{"width":179,"height":64,"layer":[{"data":{"name":"curves"},"transform":[{"filter":"datum.p==='12'"},{"fold":["a","b","c","d","e","f"],"as":["k","y"]}],"mark":{"type":"line","interpolate":"catmull-rom","clip":true},"encoding":{"x":{"field":"t","type":"quantitative","scale":{"domain":[-11,111],"nice":false,"zero":false},"axis":{"values":[0,20,40,60,80,100],"tickCount":12,"labels":false,"title":null}},"y":{"field":"y","type":"quantitative","scale":{"domain":[-2.8,3.05],"nice":false,"zero":false},"axis":{"values":[-2,0,2],"tickCount":12,"labels":false,"title":null}},"color":{"field":"k","type":"nominal","scale":{"domain":["a","b","c","d","e","f"],"range":["#2171b5","#08306b","#9ecae1","#4292c6","#6baed6","#6baed6"]},"legend":null},"strokeWidth":{"field":"k","type":"nominal","scale":{"domain":["a","b","c","d","e","f"],"range":[2.4,1,1,1,1,1]},"legend":null}}},{"data":{"name":"rmse"},"transform":[{"filter":"datum.p==='12'"}],"mark":{"type":"text","align":"right","baseline":"alphabetic"},"encoding":{"x":{"datum":104.8,"type":"quantitative"},"y":{"datum":-2.2,"type":"quantitative"},"text":{"field":"label"}}}]},
{"width":179,"height":64,"layer":[{"data":{"name":"curves"},"transform":[{"filter":"datum.p==='22'"},{"fold":["a","b","c","d","e","f"],"as":["k","y"]}],"mark":{"type":"line","interpolate":"catmull-rom","clip":true},"encoding":{"x":{"field":"t","type":"quantitative","scale":{"domain":[-11,111],"nice":false,"zero":false},"axis":{"values":[0,20,40,60,80,100],"tickCount":12,"labels":false,"title":null}},"y":{"field":"y","type":"quantitative","scale":{"domain":[-2.8,3.05],"nice":false,"zero":false},"axis":{"values":[-2,0,2],"tickCount":12,"labels":false,"title":null}},"color":{"field":"k","type":"nominal","scale":{"domain":["a","b","c","d","e","f"],"range":["#d94801","#7f2704","#fdae6b","#f16913","#fd8d3c","#fd8d3c"]},"legend":null},"strokeWidth":{"field":"k","type":"nominal","scale":{"domain":["a","b","c","d","e","f"],"range":[2.4,1,1,1,1,1]},"legend":null}}},{"data":{"name":"rmse"},"transform":[{"filter":"datum.p==='22'"}],"mark":{"type":"text","align":"right","baseline":"alphabetic"},"encoding":{"x":{"datum":104.8,"type":"quantitative"},"y":{"datum":-2.2,"type":"quantitative"},"text":{"field":"label"}}}]},
{"width":179,"height":64,"layer":[{"data":{"name":"curves"},"transform":[{"filter":"datum.p==='32'"},{"fold":["a","b","c","d","e","f"],"as":["k","y"]}],"mark":{"type":"line","interpolate":"catmull-rom","clip":true},"encoding":{"x":{"field":"t","type":"quantitative","scale":{"domain":[-11,111],"nice":false,"zero":false},"axis":{"values":[0,20,40,60,80,100],"tickCount":12,"labels":false,"title":null}},"y":{"field":"y","type":"quantitative","scale":{"domain":[-2.8,3.05],"nice":false,"zero":false},"axis":{"values":[-2,0,2],"tickCount":12,"labels":false,"title":null}},"color":{"field":"k","type":"nominal","scale":{"domain":["a","b","c","d","e","f"],"range":["#ae017e","#49006a","#fcc5c0","#f768a1","#dd3497","#dd3497"]},"legend":null},"strokeWidth":{"field":"k","type":"nominal","scale":{"domain":["a","b","c","d","e","f"],"range":[2.4,1,1,1,1,1]},"legend":null}}},{"data":{"name":"rmse"},"transform":[{"filter":"datum.p==='32'"}],"mark":{"type":"text","align":"right","baseline":"alphabetic"},"encoding":{"x":{"datum":104.8,"type":"quantitative"},"y":{"datum":-2.2,"type":"quantitative"},"text":{"field":"label"}}}]},
{"width":179,"height":64,"layer":[{"data":{"name":"curves"},"transform":[{"filter":"datum.p==='42'"},{"fold":["a","b","c","d","e","f"],"as":["k","y"]}],"mark":{"type":"line","interpolate":"catmull-rom","clip":true},"encoding":{"x":{"field":"t","type":"quantitative","scale":{"domain":[-11,111],"nice":false,"zero":false},"axis":{"values":[0,20,40,60,80,100],"tickCount":12,"labels":false,"title":null}},"y":{"field":"y","type":"quantitative","scale":{"domain":[-2.8,3.05],"nice":false,"zero":false},"axis":{"values":[-2,0,2],"tickCount":12,"labels":false,"title":null}},"color":{"field":"k","type":"nominal","scale":{"domain":["a","b","c","d","e","f"],"range":["#80a0ff","#4db3ff","#9966ff","#1ae6ff","#bf40ff","#e61aff"]},"legend":null},"strokeWidth":{"field":"k","type":"nominal","scale":{"domain":["a","b","c","d","e","f"],"range":[1.3,1,1,1,1,2.4]},"legend":null}}},{"data":{"name":"rmse"},"transform":[{"filter":"datum.p==='42'"}],"mark":{"type":"text","align":"right","baseline":"alphabetic"},"encoding":{"x":{"datum":104.8,"type":"quantitative"},"y":{"datum":-2.2,"type":"quantitative"},"text":{"field":"label"}}}]},
{"width":179,"height":64,"layer":[{"data":{"name":"curves"},"transform":[{"filter":"datum.p==='52'"},{"fold":["a","b","c","d","e","f"],"as":["k","y"]}],"mark":{"type":"line","interpolate":"catmull-rom","clip":true},"encoding":{"x":{"field":"t","type":"quantitative","scale":{"domain":[-11,111],"nice":false,"zero":false},"axis":{"values":[0,20,40,60,80,100],"tickCount":12,"format":"d","labelOverlap":false,"title":"Time (number of τₛ)"}},"y":{"field":"y","type":"quantitative","scale":{"domain":[-2.8,3.05],"nice":false,"zero":false},"axis":{"values":[-2,0,2],"tickCount":12,"labels":false,"title":null}},"color":{"field":"k","type":"nominal","scale":{"domain":["a","b","c","d","e","f"],"range":["#00bf9f","#0000ff","#0033e6","#0066cc","#0099b3","#0099b3"]},"legend":null},"strokeWidth":{"field":"k","type":"nominal","scale":{"domain":["a","b","c","d","e","f"],"range":[2.4,1,1,1,1,1]},"legend":null}}},{"data":{"name":"rmse"},"transform":[{"filter":"datum.p==='52'"}],"mark":{"type":"text","align":"right","baseline":"alphabetic"},"encoding":{"x":{"datum":104.8,"type":"quantitative"},"y":{"datum":-2.2,"type":"quantitative"},"text":{"field":"label"}}}]}
]}
]},
{"title":{"text":["When starting from other motifs:","0.221"],"anchor":"middle"},
"spacing":29.5,
"resolve":{"scale":{"color":"independent","strokeWidth":"independent"}},
"hconcat":[
{"spacing":7.6,"resolve":{"scale":{"color":"independent","strokeWidth":"independent"}},"vconcat":[
{"width":179,"height":64,"layer":[{"data":{"name":"curves"},"transform":[{"filter":"datum.p==='13'"},{"fold":["a","b","c","d","e","f"],"as":["k","y"]}],"mark":{"type":"line","interpolate":"catmull-rom","clip":true},"encoding":{"x":{"field":"t","type":"quantitative","scale":{"domain":[-11,111],"nice":false,"zero":false},"axis":{"values":[0,20,40,60,80,100],"tickCount":12,"labels":false,"title":null}},"y":{"field":"y","type":"quantitative","scale":{"domain":[-2.8,3.05],"nice":false,"zero":false},"axis":{"values":[-2,0,2],"tickCount":12,"labels":false,"title":null}},"color":{"field":"k","type":"nominal","scale":{"domain":["a","b","c","d","e","f"],"range":["#ff7f0e","#e7298a","#d62728","#9467bd","#2ca02c","#17a398"]},"legend":null},"strokeWidth":{"field":"k","type":"nominal","scale":{"domain":["a","b","c","d","e","f"],"range":[1.3,1.3,1.3,1.3,1.3,1.3]},"legend":null}}},{"data":{"name":"rmse"},"transform":[{"filter":"datum.p==='13'"}],"mark":{"type":"text","align":"right","baseline":"alphabetic"},"encoding":{"x":{"datum":104.8,"type":"quantitative"},"y":{"datum":-2.2,"type":"quantitative"},"text":{"field":"label"}}}]},
{"width":179,"height":64,"layer":[{"data":{"name":"curves"},"transform":[{"filter":"datum.p==='23'"},{"fold":["a","b","c","d","e","f"],"as":["k","y"]}],"mark":{"type":"line","interpolate":"catmull-rom","clip":true},"encoding":{"x":{"field":"t","type":"quantitative","scale":{"domain":[-11,111],"nice":false,"zero":false},"axis":{"values":[0,20,40,60,80,100],"tickCount":12,"labels":false,"title":null}},"y":{"field":"y","type":"quantitative","scale":{"domain":[-2.8,3.05],"nice":false,"zero":false},"axis":{"values":[-2,0,2],"tickCount":12,"labels":false,"title":null}},"color":{"field":"k","type":"nominal","scale":{"domain":["a","b","c","d","e","f"],"range":["#ffa600","#e7298a","#d62728","#9467bd","#2ca02c","#17a398"]},"legend":null},"strokeWidth":{"field":"k","type":"nominal","scale":{"domain":["a","b","c","d","e","f"],"range":[1.3,1.3,1.3,1.3,1.3,1.3]},"legend":null}}},{"data":{"name":"rmse"},"transform":[{"filter":"datum.p==='23'"}],"mark":{"type":"text","align":"right","baseline":"alphabetic"},"encoding":{"x":{"datum":104.8,"type":"quantitative"},"y":{"datum":-2.2,"type":"quantitative"},"text":{"field":"label"}}}]},
{"width":179,"height":64,"layer":[{"data":{"name":"curves"},"transform":[{"filter":"datum.p==='33'"},{"fold":["a","b","c","d","e","f"],"as":["k","y"]}],"mark":{"type":"line","interpolate":"catmull-rom","clip":true},"encoding":{"x":{"field":"t","type":"quantitative","scale":{"domain":[-11,111],"nice":false,"zero":false},"axis":{"values":[0,20,40,60,80,100],"tickCount":12,"labels":false,"title":null}},"y":{"field":"y","type":"quantitative","scale":{"domain":[-2.8,3.05],"nice":false,"zero":false},"axis":{"values":[-2,0,2],"tickCount":12,"labels":false,"title":null}},"color":{"field":"k","type":"nominal","scale":{"domain":["a","b","c","d","e","f"],"range":["#ff7f0e","#e7298a","#1f77b4","#a855f7","#bcbd22","#17a398"]},"legend":null},"strokeWidth":{"field":"k","type":"nominal","scale":{"domain":["a","b","c","d","e","f"],"range":[1.3,1.3,1.3,1.3,1.3,1.3]},"legend":null}}},{"data":{"name":"rmse"},"transform":[{"filter":"datum.p==='33'"}],"mark":{"type":"text","align":"right","baseline":"alphabetic"},"encoding":{"x":{"datum":104.8,"type":"quantitative"},"y":{"datum":-2.2,"type":"quantitative"},"text":{"field":"label"}}}]},
{"width":179,"height":64,"layer":[{"data":{"name":"curves"},"transform":[{"filter":"datum.p==='43'"},{"fold":["a","b","c","d","e","f"],"as":["k","y"]}],"mark":{"type":"line","interpolate":"catmull-rom","clip":true},"encoding":{"x":{"field":"t","type":"quantitative","scale":{"domain":[-11,111],"nice":false,"zero":false},"axis":{"values":[0,20,40,60,80,100],"tickCount":12,"labels":false,"title":null}},"y":{"field":"y","type":"quantitative","scale":{"domain":[-2.8,3.05],"nice":false,"zero":false},"axis":{"values":[-2,0,2],"tickCount":12,"labels":false,"title":null}},"color":{"field":"k","type":"nominal","scale":{"domain":["a","b","c","d","e","f"],"range":["#ff7f0e","#e7298a","#9467bd","#2ca02c","#d62728","#17a398"]},"legend":null},"strokeWidth":{"field":"k","type":"nominal","scale":{"domain":["a","b","c","d","e","f"],"range":[1.3,1.3,1.3,1.3,1.3,1.3]},"legend":null}}},{"data":{"name":"rmse"},"transform":[{"filter":"datum.p==='43'"}],"mark":{"type":"text","align":"right","baseline":"alphabetic"},"encoding":{"x":{"datum":104.8,"type":"quantitative"},"y":{"datum":-2.2,"type":"quantitative"},"text":{"field":"label"}}}]},
{"width":179,"height":64,"layer":[{"data":{"name":"curves"},"transform":[{"filter":"datum.p==='53'"},{"fold":["a","b","c","d","e","f"],"as":["k","y"]}],"mark":{"type":"line","interpolate":"catmull-rom","clip":true},"encoding":{"x":{"field":"t","type":"quantitative","scale":{"domain":[-11,111],"nice":false,"zero":false},"axis":{"values":[0,20,40,60,80,100],"tickCount":12,"format":"d","labelOverlap":false,"title":"Time (number of τₛ)"}},"y":{"field":"y","type":"quantitative","scale":{"domain":[-2.8,3.05],"nice":false,"zero":false},"axis":{"values":[-2,0,2],"tickCount":12,"labels":false,"title":null}},"color":{"field":"k","type":"nominal","scale":{"domain":["a","b","c","d","e","f"],"range":["#d62728","#e377c2","#1f77b4","#2ca02c","#17a398","#ff7f0e"]},"legend":null},"strokeWidth":{"field":"k","type":"nominal","scale":{"domain":["a","b","c","d","e","f"],"range":[1.3,1.3,1.3,1.3,1.3,1.3]},"legend":null}}},{"data":{"name":"rmse"},"transform":[{"filter":"datum.p==='53'"}],"mark":{"type":"text","align":"right","baseline":"alphabetic"},"encoding":{"x":{"datum":104.8,"type":"quantitative"},"y":{"datum":-2.2,"type":"quantitative"},"text":{"field":"label"}}}]}
]},
{"spacing":7.6,"resolve":{"scale":{"color":"independent","strokeWidth":"independent"}},"vconcat":[
{"width":179,"height":64,"layer":[{"data":{"name":"curves"},"transform":[{"filter":"datum.p==='14'"},{"fold":["a","b","c","d","e","f"],"as":["k","y"]}],"mark":{"type":"line","interpolate":"catmull-rom","clip":true},"encoding":{"x":{"field":"t","type":"quantitative","scale":{"domain":[-11,111],"nice":false,"zero":false},"axis":{"values":[0,20,40,60,80,100],"tickCount":12,"labels":false,"title":null}},"y":{"field":"y","type":"quantitative","scale":{"domain":[-2.8,3.05],"nice":false,"zero":false},"axis":{"values":[-2,0,2],"tickCount":12,"labels":false,"title":null}},"color":{"field":"k","type":"nominal","scale":{"domain":["a","b","c","d","e","f"],"range":["#d62728","#a855f7","#ff9f1c","#1f77b4","#2ca02c","#17a398"]},"legend":null},"strokeWidth":{"field":"k","type":"nominal","scale":{"domain":["a","b","c","d","e","f"],"range":[1.3,1.3,1.3,1.3,1.3,1.3]},"legend":null}}},{"data":{"name":"rmse"},"transform":[{"filter":"datum.p==='14'"}],"mark":{"type":"text","align":"right","baseline":"alphabetic"},"encoding":{"x":{"datum":104.8,"type":"quantitative"},"y":{"datum":-2.2,"type":"quantitative"},"text":{"field":"label"}}}]},
{"width":179,"height":64,"layer":[{"data":{"name":"curves"},"transform":[{"filter":"datum.p==='24'"},{"fold":["a","b","c","d","e","f"],"as":["k","y"]}],"mark":{"type":"line","interpolate":"catmull-rom","clip":true},"encoding":{"x":{"field":"t","type":"quantitative","scale":{"domain":[-11,111],"nice":false,"zero":false},"axis":{"values":[0,20,40,60,80,100],"tickCount":12,"labels":false,"title":null}},"y":{"field":"y","type":"quantitative","scale":{"domain":[-2.8,3.05],"nice":false,"zero":false},"axis":{"values":[-2,0,2],"tickCount":12,"labels":false,"title":null}},"color":{"field":"k","type":"nominal","scale":{"domain":["a","b","c","d","e","f"],"range":["#1f77b4","#d62728","#e377c2","#ff9f1c","#6a3d9a","#2ca02c"]},"legend":null},"strokeWidth":{"field":"k","type":"nominal","scale":{"domain":["a","b","c","d","e","f"],"range":[1.3,1.3,1.3,1.3,1.3,1.3]},"legend":null}}},{"data":{"name":"rmse"},"transform":[{"filter":"datum.p==='24'"}],"mark":{"type":"text","align":"right","baseline":"alphabetic"},"encoding":{"x":{"datum":104.8,"type":"quantitative"},"y":{"datum":-2.2,"type":"quantitative"},"text":{"field":"label"}}}]},
{"width":179,"height":64,"layer":[{"data":{"name":"curves"},"transform":[{"filter":"datum.p==='34'"},{"fold":["a","b","c","d","e","f"],"as":["k","y"]}],"mark":{"type":"line","interpolate":"catmull-rom","clip":true},"encoding":{"x":{"field":"t","type":"quantitative","scale":{"domain":[-11,111],"nice":false,"zero":false},"axis":{"values":[0,20,40,60,80,100],"tickCount":12,"labels":false,"title":null}},"y":{"field":"y","type":"quantitative","scale":{"domain":[-2.8,3.05],"nice":false,"zero":false},"axis":{"values":[-2,0,2],"tickCount":12,"labels":false,"title":null}},"color":{"field":"k","type":"nominal","scale":{"domain":["a","b","c","d","e","f"],"range":["#1f77b4","#ff9f1c","#d62728","#222222","#e377c2","#17a398"]},"legend":null},"strokeWidth":{"field":"k","type":"nominal","scale":{"domain":["a","b","c","d","e","f"],"range":[1.3,1.3,1.3,1.3,1.3,1.3]},"legend":null}}},{"data":{"name":"rmse"},"transform":[{"filter":"datum.p==='34'"}],"mark":{"type":"text","align":"right","baseline":"alphabetic"},"encoding":{"x":{"datum":104.8,"type":"quantitative"},"y":{"datum":-2.2,"type":"quantitative"},"text":{"field":"label"}}}]},
{"width":179,"height":64,"layer":[{"data":{"name":"curves"},"transform":[{"filter":"datum.p==='44'"},{"fold":["a","b","c","d","e","f"],"as":["k","y"]}],"mark":{"type":"line","interpolate":"catmull-rom","clip":true},"encoding":{"x":{"field":"t","type":"quantitative","scale":{"domain":[-11,111],"nice":false,"zero":false},"axis":{"values":[0,20,40,60,80,100],"tickCount":12,"labels":false,"title":null}},"y":{"field":"y","type":"quantitative","scale":{"domain":[-2.8,3.05],"nice":false,"zero":false},"axis":{"values":[-2,0,2],"tickCount":12,"labels":false,"title":null}},"color":{"field":"k","type":"nominal","scale":{"domain":["a","b","c","d","e","f"],"range":["#3b8fd9","#d62728","#b5d84a","#ff9f1c","#9467bd","#2ca02c"]},"legend":null},"strokeWidth":{"field":"k","type":"nominal","scale":{"domain":["a","b","c","d","e","f"],"range":[1.3,1.3,1.3,1.3,1.3,1.3]},"legend":null}}},{"data":{"name":"rmse"},"transform":[{"filter":"datum.p==='44'"}],"mark":{"type":"text","align":"right","baseline":"alphabetic"},"encoding":{"x":{"datum":104.8,"type":"quantitative"},"y":{"datum":-2.2,"type":"quantitative"},"text":{"field":"label"}}}]},
{"width":179,"height":64,"layer":[{"data":{"name":"curves"},"transform":[{"filter":"datum.p==='54'"},{"fold":["a","b","c","d","e","f"],"as":["k","y"]}],"mark":{"type":"line","interpolate":"catmull-rom","clip":true},"encoding":{"x":{"field":"t","type":"quantitative","scale":{"domain":[-11,111],"nice":false,"zero":false},"axis":{"values":[0,20,40,60,80,100],"tickCount":12,"format":"d","labelOverlap":false,"title":"Time (number of τₛ)"}},"y":{"field":"y","type":"quantitative","scale":{"domain":[-2.8,3.05],"nice":false,"zero":false},"axis":{"values":[-2,0,2],"tickCount":12,"labels":false,"title":null}},"color":{"field":"k","type":"nominal","scale":{"domain":["a","b","c","d","e","f"],"range":["#ff9f1c","#d62728","#222222","#9467bd","#e377c2","#2ca02c"]},"legend":null},"strokeWidth":{"field":"k","type":"nominal","scale":{"domain":["a","b","c","d","e","f"],"range":[1.3,1.3,1.3,1.3,1.3,1.3]},"legend":null}}},{"data":{"name":"rmse"},"transform":[{"filter":"datum.p==='54'"}],"mark":{"type":"text","align":"right","baseline":"alphabetic"},"encoding":{"x":{"datum":104.8,"type":"quantitative"},"y":{"datum":-2.2,"type":"quantitative"},"text":{"field":"label"}}}]}
]}
]}
]
}
